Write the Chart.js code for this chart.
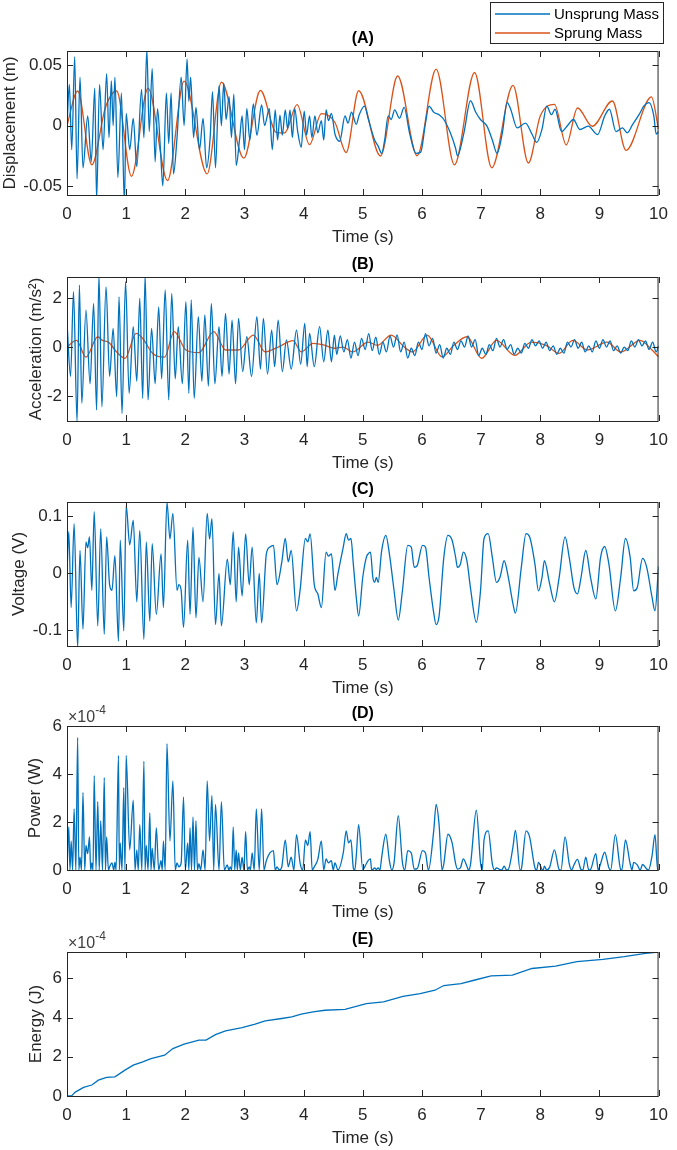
<!DOCTYPE html>
<html>
<head>
<meta charset="utf-8">
<script src="https://cdn.jsdelivr.net/npm/chart.js@4.4.1/dist/chart.umd.min.js"></script>
<style>
  body { margin: 0; background: #fff; width: 677px; height: 1150px; overflow: hidden; position: relative; }
  canvas { position: absolute; left: 0; }
</style>
</head>
<body>
<canvas id="chartA" width="677" height="250"></canvas>
<canvas id="chartB" width="677" height="250"></canvas>
<canvas id="chartC" width="677" height="250"></canvas>
<canvas id="chartD" width="677" height="250"></canvas>
<canvas id="chartE" width="677" height="250"></canvas>
<script>
// ---- Data (time in s) ----
const timeTicks = [0, 1, 2, 3, 4, 5, 6, 7, 8, 9, 10];

// (A) displacement (m)
const dispUnsprung = [[0,0],[0.04,0.034],[0.08,-0.02],[0.13,0.057],[0.17,-0.044],[0.22,0.040],[0.27,-0.035],[0.35,0.008],[0.41,-0.03],[0.47,0.031],[0.50,-0.062],[0.55,0.034],[0.61,-0.02],[0.67,0.043],[0.71,-0.01],[0.75,0.037],[0.78,0.0],[0.81,0.040],[0.86,-0.043],[0.92,0.027],[0.97,-0.065],[1.00,0.010],[1.06,-0.02],[1.12,0.006],[1.18,-0.034],[1.26,0.030],[1.30,-0.01],[1.35,0.063],[1.39,-0.005],[1.44,0.047],[1.49,-0.03],[1.53,0.014],[1.58,-0.02],[1.62,-0.05],[1.68,0.027],[1.72,-0.015],[1.76,0.027],[1.80,-0.04],[1.86,-0.01],[1.93,0.040],[1.98,0.0],[2.03,0.055],[2.06,0.02],[2.09,0.040],[2.14,-0.01],[2.18,0.015],[2.24,-0.02],[2.30,0.006],[2.36,-0.035],[2.42,-0.01],[2.46,0.028],[2.51,-0.035],[2.57,0.033],[2.61,0.0],[2.65,0.035],[2.69,0.005],[2.74,0.024],[2.78,-0.01],[2.82,0.026],[2.86,-0.033],[2.92,-0.01],[2.96,0.008],[3.00,-0.02],[3.04,0.014],[3.09,-0.012],[3.15,0.018],[3.21,-0.008],[3.29,0.017],[3.34,0.0],[3.42,0.014],[3.47,-0.02],[3.52,0.013],[3.56,-0.012],[3.60,0.0085],[3.64,-0.008],[3.69,0.013],[3.73,-0.003],[3.77,0.013],[3.81,-0.01],[3.85,0.014],[3.90,-0.005],[3.96,-0.018],[4.01,0.012],[4.05,-0.008],[4.10,0.008],[4.14,-0.01],[4.19,0.008],[4.24,-0.006],[4.30,0.004],[4.34,-0.012],[4.38,0.013],[4.42,0.004],[4.47,0.010],[4.53,-0.007],[4.61,-0.013],[4.70,0.008],[4.75,0.002],[4.81,0.011],[4.89,0.001],[4.94,0.009],[5.03,0.016],[5.09,0.006],[5.20,-0.012],[5.26,-0.017],[5.32,-0.023],[5.37,-0.012],[5.43,0.008],[5.48,0.005],[5.54,0.013],[5.62,0.006],[5.70,0.015],[5.79,-0.006],[5.90,-0.023],[5.98,-0.022],[6.06,0.002],[6.12,0.016],[6.20,0.011],[6.29,0.009],[6.37,0.005],[6.48,-0.006],[6.57,-0.019],[6.60,-0.025],[6.71,-0.006],[6.82,0.0205],[6.91,0.011],[6.99,0.005],[7.10,-0.0005],[7.19,-0.012],[7.27,-0.023],[7.36,-0.006],[7.44,0.019],[7.50,0.0135],[7.61,-0.002],[7.75,0.002],[7.86,-0.007],[7.94,-0.014],[8.03,-0.003],[8.11,0.016],[8.19,0.009],[8.25,0.0135],[8.36,-0.005],[8.47,0.0005],[8.56,0.005],[8.67,-0.0033],[8.81,-0.0005],[8.97,-0.0075],[9.09,0.008],[9.17,0.0135],[9.28,-0.005],[9.39,-0.002],[9.47,-0.006],[9.56,0.0007],[9.67,0.009],[9.75,0.016],[9.84,0.019],[9.92,0.008],[9.96,-0.007],[10,-0.005]];
const dispSprung = [[0,0],[0.18,0.0286],[0.42,-0.0325],[0.65,0.015],[0.84,0.0286],[1.09,-0.042],[1.37,0.031],[1.70,-0.0456],[1.98,0.0367],[2.37,-0.040],[2.61,0.036],[2.99,-0.027],[3.27,0.029],[3.54,-0.0058],[3.68,-0.006],[3.89,0.0173],[4.10,-0.0158],[4.30,0.0098],[4.53,0.0025],[4.72,-0.0223],[4.93,0.0288],[5.30,-0.0252],[5.59,0.041],[5.92,-0.025],[6.24,0.0467],[6.55,-0.0325],[6.89,0.0439],[7.18,-0.035],[7.54,0.0333],[7.80,-0.031],[8.0,0.0078],[8.24,0.0175],[8.44,-0.016],[8.63,0.0145],[8.88,-0.0006],[9.22,0.0203],[9.45,-0.0205],[9.88,0.0237],[10,-0.003]];

// (B) acceleration (m/s^2)
const accUnsprung = [[0,1.0],[0.06,-1.2],[0.11,2.26],[0.17,-3.05],[0.21,2.53],[0.25,-2.3],[0.32,1.51],[0.39,-1.5],[0.45,1.78],[0.50,-2.57],[0.54,2.94],[0.59,-2.44],[0.66,2.46],[0.72,-1.2],[0.78,0.76],[0.84,-2.03],[0.88,2.05],[0.93,-2.71],[0.99,2.67],[1.05,-1.89],[1.12,0.83],[1.18,-1.4],[1.23,1.99],[1.28,-2.1],[1.32,2.94],[1.37,-2.16],[1.43,0.76],[1.49,-1.5],[1.55,1.64],[1.60,-1.3],[1.66,2.33],[1.72,-2.16],[1.77,2.19],[1.83,-1.3],[1.88,0.83],[1.95,-1.5],[2.01,1.85],[2.06,-1.89],[2.10,1.92],[2.15,-2.1],[2.22,1.24],[2.28,-1.4],[2.33,1.31],[2.39,-1.6],[2.44,1.78],[2.50,-1.5],[2.57,0.83],[2.62,-1.2],[2.68,1.37],[2.74,-1.1],[2.79,1.1],[2.85,-1.5],[2.90,1.17],[2.97,-1.0],[3.04,0.42],[3.12,-1.2],[3.21,1.24],[3.27,-0.9],[3.32,1.17],[3.39,-1.1],[3.46,0.69],[3.51,-0.8],[3.57,1.1],[3.64,-1.0],[3.71,0.29],[3.79,-0.9],[3.88,0.69],[3.95,-0.7],[4.02,0.97],[4.06,-0.8],[4.10,0.56],[4.18,-0.8],[4.27,0.83],[4.34,-0.6],[4.41,0.69],[4.47,-0.6],[4.52,0.49],[4.56,-0.3],[4.62,0.45],[4.68,-0.2],[4.74,0.3],[4.80,-0.45],[4.86,0.2],[4.92,-0.35],[4.98,0.35],[5.04,-0.1],[5.10,0.55],[5.16,-0.15],[5.22,0.4],[5.28,-0.3],[5.34,0.2],[5.40,-0.2],[5.46,0.45],[5.52,0.0],[5.58,0.5],[5.64,-0.2],[5.70,0.2],[5.76,-0.45],[5.82,-0.05],[5.88,-0.35],[5.94,0.2],[6.00,-0.1],[6.06,0.55],[6.12,0.05],[6.18,0.35],[6.24,-0.25],[6.30,0.1],[6.36,-0.45],[6.42,-0.05],[6.48,-0.3],[6.54,0.2],[6.60,-0.1],[6.66,0.25],[6.72,0.0],[6.78,0.45],[6.84,0.0],[6.90,0.3],[6.96,-0.35],[7.02,-0.05],[7.08,-0.3],[7.14,0.1],[7.20,-0.15],[7.26,0.35],[7.32,0.0],[7.38,0.3],[7.44,-0.1],[7.50,0.1],[7.56,-0.3],[7.62,-0.05],[7.68,-0.25],[7.74,0.15],[7.80,-0.05],[7.86,0.3],[7.92,0.05],[7.98,0.25],[8.04,-0.05],[8.10,0.2],[8.16,-0.15],[8.22,0.05],[8.28,-0.3],[8.34,-0.05],[8.40,-0.25],[8.46,0.2],[8.52,0.0],[8.58,0.3],[8.64,-0.05],[8.70,0.2],[8.76,-0.2],[8.82,0.05],[8.88,-0.2],[8.94,0.25],[9.00,-0.05],[9.06,0.3],[9.12,0.0],[9.18,0.25],[9.24,-0.15],[9.30,0.05],[9.36,-0.25],[9.42,0.0],[9.48,-0.15],[9.54,0.25],[9.60,0.0],[9.66,0.3],[9.72,0.05],[9.78,0.25],[9.84,-0.1],[9.90,0.2],[9.96,-0.2],[10,0.05]];
const accSprung = [[0,0],[0.16,0.27],[0.32,-0.41],[0.52,0.42],[0.60,0.27],[0.70,0.2],[0.84,-0.2],[0.98,-0.46],[1.17,0.56],[1.28,0.35],[1.45,-0.26],[1.65,-0.41],[1.81,0.63],[2.01,-0.12],[2.23,-0.23],[2.48,0.63],[2.68,-0.12],[2.90,-0.12],[3.15,0.49],[3.35,-0.2],[3.57,0.0],[3.82,0.26],[3.96,-0.2],[4.16,0.15],[4.35,0.08],[4.52,-0.05],[4.67,0.0],[4.83,-0.2],[5.09,0.2],[5.25,0.07],[5.48,0.49],[5.70,0.0],[5.84,-0.2],[6.09,0.49],[6.34,-0.4],[6.54,0.07],[6.76,0.42],[7.01,-0.46],[7.26,0.27],[7.57,-0.34],[7.85,0.2],[8.10,0.07],[8.32,-0.26],[8.55,0.27],[8.80,-0.12],[9.13,0.2],[9.36,-0.2],[9.69,0.27],[9.89,-0.12],[10,-0.4]];

// (C) voltage (V)
const voltage = [[0,0],[0.03,0.073],[0.07,-0.06],[0.12,0.087],[0.18,-0.128],[0.22,0.04],[0.27,-0.098],[0.32,0.055],[0.35,0.045],[0.38,0.064],[0.42,-0.03],[0.46,0.108],[0.52,-0.092],[0.57,0.078],[0.63,-0.107],[0.67,0.064],[0.72,-0.02],[0.76,-0.03],[0.81,0.031],[0.87,-0.119],[0.90,0.058],[0.96,-0.101],[1.0,0.119],[1.06,0.05],[1.12,0.093],[1.18,-0.05],[1.23,0.075],[1.30,-0.116],[1.34,0.055],[1.40,-0.084],[1.44,0.052],[1.51,-0.072],[1.59,0.034],[1.63,-0.06],[1.69,0.125],[1.74,0.06],[1.79,0.105],[1.86,-0.03],[1.89,-0.02],[1.93,-0.03],[1.97,-0.095],[2.04,0.058],[2.08,-0.072],[2.13,0.081],[2.18,-0.078],[2.23,0.028],[2.30,-0.05],[2.37,0.105],[2.41,0.06],[2.45,0.096],[2.51,-0.09],[2.57,0.0],[2.61,-0.092],[2.71,0.025],[2.76,-0.02],[2.81,0.073],[2.86,-0.05],[2.90,0.046],[2.96,-0.04],[3.02,0.069],[3.08,-0.02],[3.13,0.046],[3.20,-0.087],[3.25,0.0],[3.29,-0.087],[3.37,0.034],[3.43,0.046],[3.49,0.049],[3.55,-0.02],[3.63,0.019],[3.69,0.061],[3.74,0.02],[3.79,0.04],[3.88,-0.066],[3.94,-0.03],[4.03,0.061],[4.07,0.055],[4.11,0.069],[4.18,-0.02],[4.24,-0.036],[4.30,-0.06],[4.38,0.037],[4.42,0.03],[4.47,0.034],[4.53,-0.03],[4.58,-0.001],[4.67,0.046],[4.72,0.0695],[4.76,0.058],[4.80,0.061],[4.84,0.0165],[4.89,-0.042],[4.93,-0.075],[5.00,-0.007],[5.06,0.028],[5.09,0.034],[5.13,0.037],[5.17,-0.007],[5.20,-0.016],[5.23,-0.007],[5.26,-0.016],[5.32,0.040],[5.39,0.0665],[5.45,0.034],[5.53,-0.031],[5.60,-0.082],[5.67,-0.031],[5.76,0.049],[5.82,0.046],[5.87,0.0105],[5.92,0.0135],[6.01,0.049],[6.06,0.046],[6.12,-0.007],[6.20,-0.07],[6.24,-0.09],[6.29,-0.075],[6.37,0.028],[6.44,0.0665],[6.51,0.058],[6.57,0.028],[6.60,0.0105],[6.65,0.016],[6.70,0.037],[6.76,0.022],[6.82,-0.025],[6.92,-0.086],[6.99,-0.031],[7.05,0.061],[7.12,0.0695],[7.19,0.028],[7.26,-0.016],[7.32,-0.007],[7.39,0.022],[7.46,-0.007],[7.54,-0.054],[7.58,-0.07],[7.68,0.0105],[7.76,0.0695],[7.82,0.064],[7.91,0.0165],[7.97,-0.031],[8.03,-0.007],[8.07,0.022],[8.16,-0.019],[8.24,-0.05],[8.32,-0.007],[8.42,0.064],[8.49,0.028],[8.57,-0.025],[8.63,-0.036],[8.69,-0.007],[8.77,0.040],[8.85,-0.007],[8.94,-0.045],[9.02,0.028],[9.09,0.047],[9.16,0.0165],[9.27,-0.066],[9.36,-0.007],[9.44,0.061],[9.52,0.028],[9.58,-0.031],[9.64,-0.025],[9.73,0.026],[9.80,0.0105],[9.89,-0.042],[9.94,-0.066],[10,0.012]];

// (D) power, in units of 1e-4 W
const power = [[0,0],[0.03,1.79],[0.05,0],[0.07,1.21],[0.095,0],[0.12,2.55],[0.15,0],[0.18,5.52],[0.20,0],[0.22,0.54],[0.245,0],[0.27,3.23],[0.30,0],[0.32,1.02],[0.35,0.68],[0.38,1.38],[0.40,0],[0.42,0.30],[0.44,0],[0.46,3.93],[0.49,0],[0.52,2.85],[0.545,0],[0.57,2.05],[0.60,0],[0.63,3.85],[0.65,0],[0.67,1.38],[0.70,0],[0.72,0.13],[0.76,0.30],[0.79,0],[0.81,0.32],[0.83,0],[0.87,4.77],[0.885,0],[0.90,1.13],[0.93,0],[0.96,3.43],[0.98,0],[1.0,4.77],[1.06,0.84],[1.12,2.91],[1.15,0],[1.18,0.84],[1.205,0],[1.23,1.89],[1.265,0],[1.30,4.53],[1.32,0],[1.34,1.02],[1.37,0],[1.40,2.38],[1.42,0],[1.44,0.91],[1.475,0],[1.51,1.75],[1.55,0],[1.59,0.39],[1.61,0],[1.63,1.21],[1.66,0],[1.69,5.26],[1.74,1.21],[1.79,3.71],[1.83,0],[1.86,0.30],[1.89,0.13],[1.93,0.30],[1.97,3.04],[2.00,0],[2.04,1.13],[2.06,0],[2.08,1.75],[2.105,0],[2.13,2.21],[2.155,0],[2.18,2.05],[2.205,0],[2.23,0.26],[2.26,0],[2.30,0.84],[2.335,0],[2.37,3.71],[2.41,1.21],[2.45,3.10],[2.48,0],[2.51,2.73],[2.57,0],[2.61,2.85],[2.66,0],[2.71,0.21],[2.735,0],[2.76,0.13],[2.785,0],[2.81,1.79],[2.835,0],[2.86,0.84],[2.88,0],[2.90,0.71],[2.93,0],[2.96,0.54],[2.99,0],[3.02,1.60],[3.05,0],[3.08,0.13],[3.10,0],[3.13,0.71],[3.165,0],[3.20,2.55],[3.25,0],[3.29,2.55],[3.33,0],[3.37,0.39],[3.43,0.71],[3.49,0.81],[3.52,0],[3.55,0.13],[3.59,0],[3.63,0.12],[3.69,1.25],[3.74,0.13],[3.79,0.54],[3.835,0],[3.88,1.47],[3.94,0.30],[3.985,0],[4.03,1.25],[4.07,1.02],[4.11,1.60],[4.145,0],[4.18,0.13],[4.24,0.44],[4.30,1.21],[4.34,0],[4.38,0.46],[4.42,0.30],[4.47,0.39],[4.50,0],[4.53,0.30],[4.58,0],[4.67,0.71],[4.72,1.63],[4.76,1.13],[4.80,1.25],[4.84,0.09],[4.865,0],[4.89,0.59],[4.93,1.89],[5.00,0.02],[5.06,0.26],[5.09,0.39],[5.13,0.46],[5.15,0],[5.17,0.02],[5.20,0.09],[5.23,0.02],[5.26,0.09],[5.29,0],[5.32,0.54],[5.39,1.49],[5.45,0.39],[5.49,0],[5.53,0.32],[5.60,2.26],[5.67,0.32],[5.71,0],[5.76,0.81],[5.82,0.71],[5.87,0.04],[5.92,0.06],[6.01,0.81],[6.06,0.71],[6.11,0],[6.20,1.65],[6.24,2.73],[6.29,1.89],[6.34,0],[6.37,0.26],[6.44,1.49],[6.51,1.13],[6.57,0.26],[6.60,0.04],[6.65,0.09],[6.70,0.46],[6.76,0.16],[6.79,0],[6.82,0.21],[6.92,2.49],[6.99,0.32],[7.02,0],[7.05,1.25],[7.12,1.63],[7.19,0.26],[7.23,0],[7.26,0.09],[7.32,0.02],[7.35,0],[7.39,0.16],[7.43,0],[7.46,0.02],[7.54,0.98],[7.58,1.65],[7.66,0],[7.68,0.04],[7.76,1.63],[7.82,1.38],[7.91,0.09],[7.94,0],[7.97,0.32],[8.03,0.02],[8.05,0],[8.07,0.16],[8.11,0],[8.16,0.12],[8.24,0.84],[8.32,0.02],[8.35,0],[8.42,1.38],[8.49,0.26],[8.53,0],[8.57,0.21],[8.63,0.44],[8.69,0.02],[8.72,0],[8.77,0.54],[8.82,0],[8.85,0.02],[8.94,0.68],[8.98,0],[9.02,0.26],[9.09,0.74],[9.16,0.09],[9.19,0],[9.27,1.47],[9.36,0.02],[9.38,0],[9.44,1.25],[9.52,0.26],[9.55,0],[9.58,0.32],[9.64,0.21],[9.69,0],[9.73,0.23],[9.80,0.04],[9.83,0],[9.89,0.59],[9.94,1.47],[9.985,0],[10,0.05]];

// (E) energy, in units of 1e-4 J
const energy = [[0,0],[0.08,0.02],[0.14,0.2],[0.28,0.44],[0.42,0.56],[0.53,0.81],[0.67,0.95],[0.81,0.98],[0.98,1.32],[1.12,1.57],[1.28,1.74],[1.42,1.91],[1.65,2.08],[1.79,2.42],[1.98,2.64],[2.23,2.85],[2.35,2.85],[2.51,3.13],[2.68,3.32],[2.96,3.49],[3.18,3.66],[3.35,3.83],[3.63,3.95],[3.80,4.03],[3.96,4.17],[4.16,4.29],[4.36,4.37],[4.70,4.42],[5.06,4.71],[5.35,4.80],[5.68,5.08],[5.97,5.22],[6.22,5.39],[6.37,5.63],[6.66,5.73],[6.88,5.90],[7.17,6.12],[7.53,6.16],[7.86,6.50],[8.26,6.62],[8.62,6.85],[9.06,6.96],[9.42,7.10],[9.78,7.27],[10,7.34]];

// y tick values per panel
const dispTicks = [-0.05, 0, 0.05];
const accTicks = [-2, 0, 2];
const voltTicks = [-0.1, 0, 0.1];
const powerTicks = [0, 2, 4, 6];
const energyTicks = [0, 2, 4, 6];

// ---- Style ----
const FONT = "'Liberation Sans', Arial, Helvetica, sans-serif";
const INK = '#262626';
const BLUE = '#0072BD';
const ORANGE = '#D95319';
const PLOT_TOP = 51;      // plot top inside each canvas
const PLOT_H = 144;
const CANVAS_H = 250;
const AXIS_LEFT = 67;
const RIGHT_PAD = 13;

// draws MATLAB-style box, inward ticks and the texts
const matlabAxes = {
  id: 'matlabAxes',
  afterDraw(chart, args, o) {
    const { ctx, chartArea: a, scales: { x, y } } = chart;
    const cx = (a.left + a.right) / 2;
    ctx.save();
    ctx.strokeStyle = INK;
    ctx.lineWidth = 1;
    ctx.strokeRect(a.left + 0.5, a.top + 0.5, a.right - a.left - 1, a.bottom - a.top);

    ctx.beginPath();
    x.ticks.forEach(tk => {
      const px = Math.round(x.getPixelForValue(tk.value)) + 0.5;
      ctx.moveTo(px, a.bottom); ctx.lineTo(px, a.bottom - 6);
      ctx.moveTo(px, a.top); ctx.lineTo(px, a.top + 6);
    });
    y.ticks.forEach(tk => {
      const py = Math.round(y.getPixelForValue(tk.value)) + 0.5;
      ctx.moveTo(a.left, py); ctx.lineTo(a.left + 6, py);
      ctx.moveTo(a.right, py); ctx.lineTo(a.right - 6, py);
    });
    ctx.stroke();

    // panel title
    ctx.fillStyle = '#000';
    ctx.textAlign = 'center';
    ctx.textBaseline = 'middle';
    ctx.font = `bold 16px ${FONT}`;
    ctx.fillText(o.title, cx, a.top - 12);

    // x label
    ctx.fillStyle = INK;
    ctx.font = `17px ${FONT}`;
    ctx.fillText('Time (s)', cx, a.bottom + 42);

    // y label
    ctx.save();
    ctx.translate(o.ylabelX, (a.top + a.bottom) / 2);
    ctx.rotate(-Math.PI / 2);
    ctx.fillText(o.ylabel, 0, 0);
    ctx.restore();

    // exponent
    if (o.exponent) {
      ctx.textAlign = 'left';
      ctx.textBaseline = 'alphabetic';
      ctx.fillStyle = '#404040';
      ctx.font = `16px ${FONT}`;
      ctx.fillText('\u00d710', a.left + 1, a.top - 4);
      const w = ctx.measureText('\u00d710').width;
      ctx.font = `12px ${FONT}`;
      ctx.fillText(o.exponent, a.left + 1 + w, a.top - 12);
    }

    // legend
    if (o.legend) {
      const lx = 490, ly = 2, lw = 173, lh = 41;
      ctx.fillStyle = '#fff';
      ctx.fillRect(lx, ly, lw, lh);
      ctx.strokeStyle = INK;
      ctx.strokeRect(lx + 0.5, ly + 0.5, lw, lh);
      ctx.textAlign = 'left';
      ctx.textBaseline = 'middle';
      ctx.font = `15px ${FONT}`;
      o.legend.forEach((item, i) => {
        const ry = ly + 12 + i * 19;
        ctx.strokeStyle = item.color;
        ctx.lineWidth = 1.5;
        ctx.beginPath();
        ctx.moveTo(lx + 5, ry); ctx.lineTo(lx + 60, ry);
        ctx.stroke();
        ctx.fillStyle = '#000';
        ctx.fillText(item.label, lx + 64, ry + 1);
      });
    }
    ctx.restore();
  }
};

function lineSet(pairs, color) {
  return {
    data: pairs.map(p => ({ x: p[0], y: p[1] })),
    borderColor: color,
    borderWidth: 1.3,
    pointRadius: 0,
    fill: false,
    cubicInterpolationMode: 'monotone'
  };
}

function makePanel(id, plotTop, datasets, yMin, yMax, yTicks, deco) {
  const canvas = document.getElementById(id);
  canvas.style.top = (plotTop - PLOT_TOP) + 'px';
  return new Chart(canvas, {
    type: 'line',
    data: { datasets },
    options: {
      responsive: false,
      animation: false,
      devicePixelRatio: 1,
      events: [],
      layout: { padding: { top: PLOT_TOP, right: RIGHT_PAD, left: 0, bottom: 0 } },
      plugins: { legend: { display: false }, tooltip: { enabled: false }, matlabAxes: deco },
      scales: {
        x: {
          type: 'linear', min: 0, max: 10,
          afterBuildTicks: s => { s.ticks = timeTicks.map(v => ({ value: v })); },
          afterFit: s => { s.height = CANVAS_H - PLOT_TOP - PLOT_H; },
          grid: { display: false, drawTicks: false },
          border: { display: false },
          ticks: { color: INK, font: { family: FONT, size: 17 }, padding: 9, autoSkip: false, maxRotation: 0, callback: v => String(v) }
        },
        y: {
          type: 'linear', min: yMin, max: yMax,
          afterBuildTicks: s => { s.ticks = yTicks.map(v => ({ value: v })); },
          afterFit: s => { s.width = AXIS_LEFT; },
          grid: { display: false, drawTicks: false },
          border: { display: false },
          ticks: { color: INK, font: { family: FONT, size: 17 }, padding: 5, callback: v => String(v) }
        }
      }
    },
    plugins: [matlabAxes]
  });
}

makePanel('chartA', 51,
  [lineSet(dispUnsprung, BLUE), lineSet(dispSprung, ORANGE)],
  -0.0575, 0.0617, dispTicks,
  { title: '(A)', ylabel: 'Displacement (m)', ylabelX: 10,
    legend: [{ label: 'Unsprung Mass', color: BLUE }, { label: 'Sprung Mass', color: ORANGE }] });

makePanel('chartB', 277,
  [lineSet(accUnsprung, BLUE), lineSet(accSprung, ORANGE)],
  -3.02, 2.86, accTicks,
  { title: '(B)', ylabel: 'Acceleration (m/s\u00b2)', ylabelX: 36 });

makePanel('chartC', 502,
  [lineSet(voltage, BLUE)],
  -0.1275, 0.125, voltTicks,
  { title: '(C)', ylabel: 'Voltage (V)', ylabelX: 19 });

makePanel('chartD', 726,
  [lineSet(power, BLUE)],
  0, 6, powerTicks,
  { title: '(D)', ylabel: 'Power (W)', ylabelX: 35, exponent: '-4' });

const energySet = lineSet(energy, BLUE);
energySet.cubicInterpolationMode = 'default';
makePanel('chartE', 952,
  [energySet],
  0, 7.34, energyTicks,
  { title: '(E)', ylabel: 'Energy (J)', ylabelX: 36, exponent: '-4' });
</script>
</body>
